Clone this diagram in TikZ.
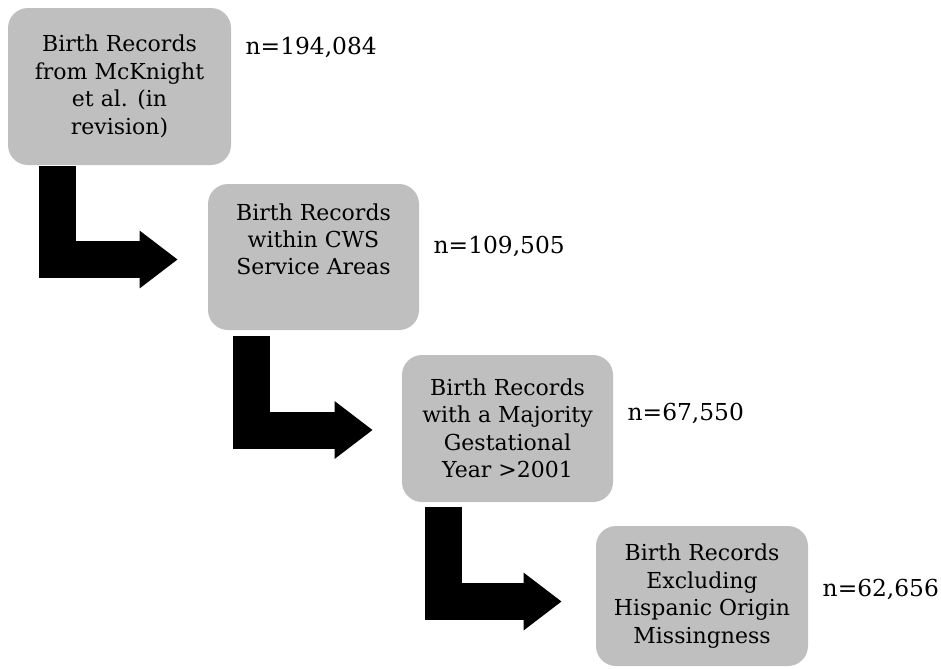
\documentclass[tikz,border=0pt]{standalone}
\usepackage{fontspec}
\setmainfont{DejaVu Serif}
\usetikzlibrary{arrows.meta}
\definecolor{boxgray}{HTML}{BFBFBF}

\begin{document}
\begin{tikzpicture}[x=0.75pt, y=-0.75pt,
    recbox/.style={fill=boxgray, rounded corners=15pt, align=center,
        inner sep=0pt, font=\fontsize{16.5}{20.6}\selectfont},
    count/.style={anchor=west, font=\fontsize{17.5}{21}\selectfont},
    elbow/.style={line width=27.75pt, line join=miter,
        -{Triangle[length=28.5pt, width=41.25pt]}}]
    \useasboundingbox (0,0) rectangle (941,668);
    % Boxes
    \node[recbox, minimum width=167.25pt, minimum height=117.75pt] (b1) at (119.5,86.5)
        {Birth Records\\from McKnight\\et al. (in\\revision)};
    \node[recbox, minimum width=158.25pt, minimum height=109.5pt] (b2) at (313.5,257)
        {Birth Records\\within CWS\\Service Areas\\\strut};
    \node[recbox, minimum width=158.25pt, minimum height=110.25pt] (b3) at (507.5,428.5)
        {Birth Records\\with a Majority\\Gestational\\Year >2001};
    \node[recbox, minimum width=159pt, minimum height=105pt] (b4) at (702,596)
        {Birth Records\\Excluding\\Hispanic Origin\\Missingness};
    % Counts
    \node[count] (n1) at (241,47) {n=194,084};
    \node[count] (n2) at (429,246) {n=109,505};
    \node[count] (n3) at (623,413) {n=67,550};
    \node[count] (n4) at (818,589) {n=62,656};
    % Elbow arrows
    \coordinate (s1) at ([shift={(49.5,1)}]b1.south west);
    \coordinate (e1) at ([shift={(-30,2.5)}]b2.west);
    \coordinate (s2) at ([shift={(44,6)}]b2.south west);
    \coordinate (e2) at ([shift={(-29,1.5)}]b3.west);
    \coordinate (s3) at ([shift={(42,5)}]b3.south west);
    \coordinate (e3) at ([shift={(-34,5.5)}]b4.west);
    \draw[elbow] (s1) |- (e1);
    \draw[elbow] (s2) |- (e2);
    \draw[elbow] (s3) |- (e3);
\end{tikzpicture}
\end{document}
